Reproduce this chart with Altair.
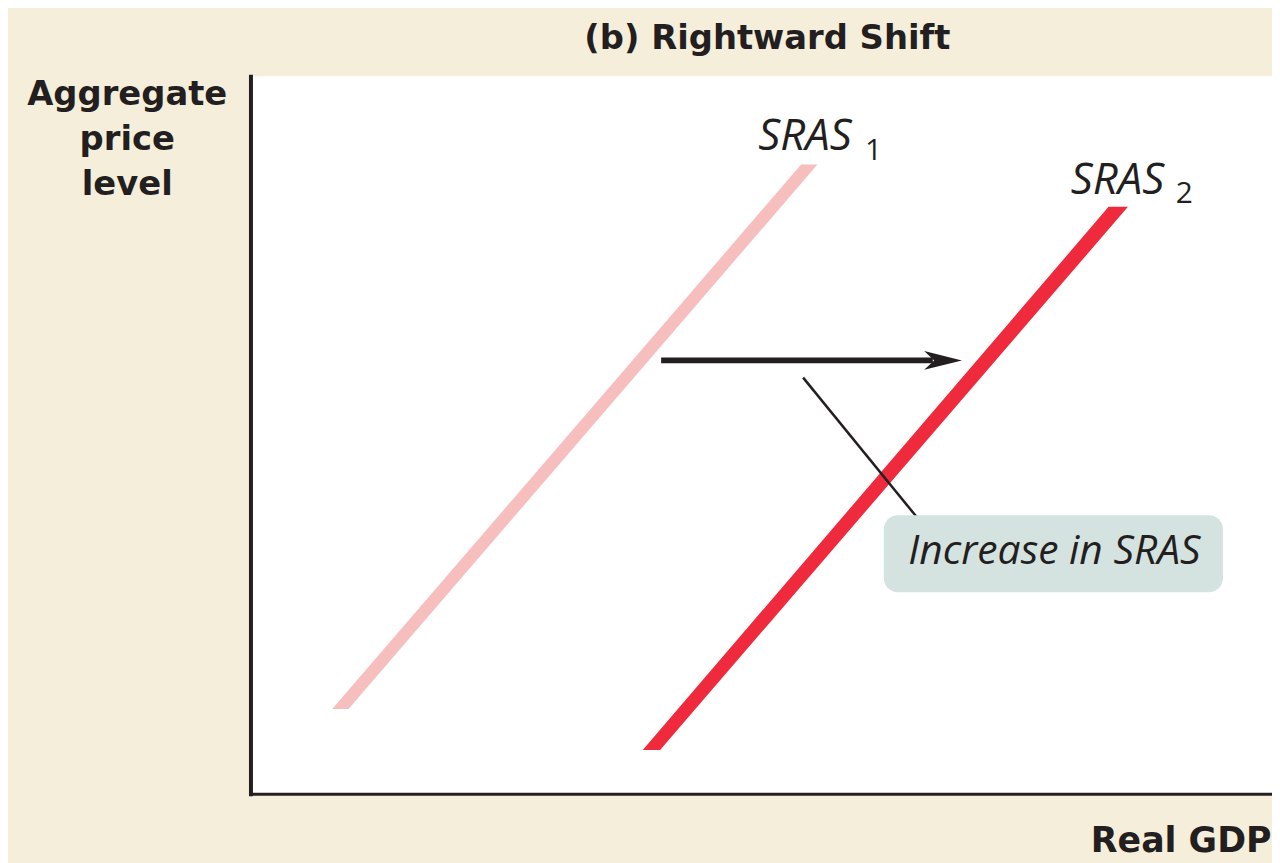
import altair as alt
import pandas as pd

# ---- data (arbitrary units: x = real GDP 0..100, y = price level 0..100) ----
curve_names = ["SRAS1", "SRAS2"]
sras1_y = [11.8, 87.7]
sras1_x_left = [8.0, 53.9]
sras1_x_right = [9.6, 55.5]
sras2_y = [6.1, 81.8]
sras2_x_left = [38.4, 84.0]
sras2_x_right = [40.1, 85.9]

shift_from_x = [40.2]
shift_to_x = [66.8]
shift_y = [60.4]
head_x = [67.8]

leader_x = [54.1]
leader_x2 = [65.2]
leader_y = [58.0]
leader_y2 = [38.6]

box_x = [62.0]
box_x2 = [95.2]
box_y = [28.1]
box_y2 = [38.8]
box_text = ["Increase in SRAS"]
box_text_x = [78.7]
box_text_y = [32.0]

label_text = ["SRAS", "SRAS"]
label_x = [49.7, 80.3]
label_y = [89.75, 83.66]
sub_text = ["1", "2"]
sub_x = [61.0, 91.4]
sub_y = [88.37, 82.27]

title_text = ["(b) Rightward Shift"]
title_x = [50.6]
title_y = [103.74]

INK = "#231F20"
CREAM = "#F5EEDA"

xs = alt.Scale(domain=[0, 100], nice=False, zero=False)
ys = alt.Scale(domain=[0, 100], nice=False, zero=False)

ax_y = alt.Axis(
    title=["Aggregate", "price", "level"], ticks=False, labels=False, grid=False,
    domainColor=INK, domainWidth=4, domainCap="square",
    titleAngle=0, titleAlign="center", titleBaseline="alphabetic",
    titleX=-124.5, titleY=28, titleLineHeight=45.5,
    titleFont="DejaVu Sans", titleFontSize=34, titleFontWeight="bold", titleColor=INK)
ax_x = alt.Axis(
    title="Real GDP", ticks=False, labels=False, grid=False,
    domainColor=INK, domainWidth=3, domainCap="square",
    titleAlign="right", titleBaseline="alphabetic", titleX=1027, titleY=58,
    titleFont="DejaVu Sans", titleFontSize=35, titleFontWeight="bold", titleColor=INK)


def X(field):
    return alt.X(field, scale=xs, axis=ax_x)


def Y(field):
    return alt.Y(field, scale=ys, axis=ax_y)


# ---- curves as horizontal-orient areas (horizontal end cuts) ----
df1 = pd.DataFrame({"y": sras1_y, "xl": sras1_x_left, "xr": sras1_x_right, "curve": curve_names[0]})
df2 = pd.DataFrame({"y": sras2_y, "xl": sras2_x_left, "xr": sras2_x_right, "curve": curve_names[1]})

sras1 = alt.Chart(df1).mark_area(orient="horizontal", color="#F7BEBE").encode(
    y=Y("y:Q"), x=X("xl:Q"), x2="xr:Q")

sras2 = alt.Chart(df2).mark_area(orient="horizontal", color="#EE2A3C").encode(
    y=Y("y:Q"), x=X("xl:Q"), x2="xr:Q")

# ---- shift arrow ----
shaft = alt.Chart(pd.DataFrame({"x": shift_from_x, "x2": shift_to_x, "y": shift_y})).mark_rule(
    color=INK, strokeWidth=6, strokeCap="butt").encode(
    x=X("x:Q"), x2="x2:Q", y=Y("y:Q"))

head = alt.Chart(pd.DataFrame({"x": head_x, "y": shift_y})).mark_point(
    shape="M1,0 L-1,-0.5 L-0.47,0 L-1,0.5 Z", filled=True, color=INK, opacity=1,
    size=1444, strokeWidth=0).encode(
    x=X("x:Q"), y=Y("y:Q"))

# ---- callout ----
leader = alt.Chart(pd.DataFrame({"x": leader_x, "x2": leader_x2, "y": leader_y, "y2": leader_y2})).mark_rule(
    color=INK, strokeWidth=2.5).encode(
    x=X("x:Q"), x2="x2:Q", y=Y("y:Q"), y2="y2:Q")

box = alt.Chart(pd.DataFrame({"x": box_x, "x2": box_x2, "y": box_y, "y2": box_y2})).mark_rect(
    color="#D5E3E0", cornerRadius=14).encode(
    x=X("x:Q"), x2="x2:Q", y=Y("y:Q"), y2="y2:Q")

box_label = alt.Chart(pd.DataFrame({"t": box_text, "x": box_text_x, "y": box_text_y})).mark_text(
    font="Open Sans", fontStyle="italic", fontSize=41, color=INK,
    align="center", baseline="alphabetic").encode(
    x=X("x:Q"), y=Y("y:Q"), text="t:N")

# ---- curve labels ----
labels = alt.Chart(pd.DataFrame({"t": label_text, "x": label_x, "y": label_y})).mark_text(
    font="Open Sans", fontStyle="italic", fontSize=44, color=INK,
    align="left", baseline="alphabetic").encode(
    x=X("x:Q"), y=Y("y:Q"), text="t:N")

subs = alt.Chart(pd.DataFrame({"t": sub_text, "x": sub_x, "y": sub_y})).mark_text(
    font="Open Sans", fontSize=30, color=INK,
    align="center", baseline="alphabetic").encode(
    x=X("x:Q"), y=Y("y:Q"), text="t:N")

# ---- panel title ----
title = alt.Chart(pd.DataFrame({"t": title_text, "x": title_x, "y": title_y})).mark_text(
    font="DejaVu Sans", fontWeight="bold", fontSize=34, color=INK,
    align="center", baseline="alphabetic").encode(
    x=X("x:Q"), y=Y("y:Q"), text="t:N")

chart = alt.layer(
    sras1, sras2, shaft, head, leader, box, box_label, labels, subs, title
).properties(
    width=1028, height=722,
    autosize=alt.AutoSizeParams(type="none"),
    padding={"left": 244, "top": 66, "right": 0, "bottom": 67},
    background=CREAM,
).configure_view(fill="white", strokeWidth=0)

chart.save("out.html", embed_options={"renderer": "svg", "actions": False})
